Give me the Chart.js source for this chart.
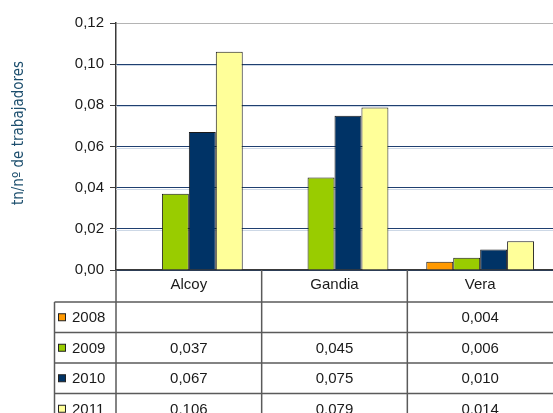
<!DOCTYPE html>
<html>
<head>
<meta charset="utf-8">
<script src="https://cdn.jsdelivr.net/npm/chart.js@4.4.1/dist/chart.umd.min.js"></script>
<style>
  html, body { margin: 0; padding: 0; background: #fff; }
  #wrap { width: 553px; height: 413px; position: relative; }
</style>
</head>
<body>
<div id="wrap"><canvas id="chart"></canvas></div>
<script>
const categories = ['Alcoy', 'Gandia', 'Vera'];
const years = ['2008', '2009', '2010', '2011'];
const values2008 = [null, null, 0.004];
const values2009 = [0.037, 0.045, 0.006];
const values2010 = [0.067, 0.075, 0.010];
const values2011 = [0.106, 0.079, 0.014];
const yearColors = ['#FF9900', '#99CC00', '#003366', '#FFFF99'];
const yTitle = 'tn/nº de trabajadores';

const seriesValues = [values2008, values2009, values2010, values2011];

function formatComma(value, digits) {
  return value.toFixed(digits).replace('.', ',');
}

const tableFont = '15px "Liberation Sans", Arial, sans-serif';
const lineColor = '#5a5a5a';

// draws the data table under the axis, plus the rotated y title
const dataTablePlugin = {
  id: 'dataTable',
  beforeDatasetsDraw(chart) {
    const { ctx, chartArea, scales } = chart;
    const y = scales.y;
    ctx.save();
    ctx.strokeStyle = '#cdd8e6';
    ctx.lineWidth = 1;
    y.ticks.forEach((tick) => {
      if (tick.value === 0 || tick.value >= 0.12) return;
      const py = Math.round(y.getPixelForValue(tick.value)) + 1.5;
      ctx.beginPath();
      ctx.moveTo(chartArea.left, py);
      ctx.lineTo(chartArea.right, py);
      ctx.stroke();
    });
    ctx.restore();
  },
  afterDraw(chart) {
    const { ctx, chartArea, scales } = chart;
    const x = scales.x;
    const half = (x.getPixelForValue(1) - x.getPixelForValue(0)) / 2;
    const top = chartArea.bottom;
    const headerBottom = top + 32;
    const rowH = 30.5;
    const legendLeft = 54.5;
    const left = chartArea.left;
    const right = chartArea.right;

    ctx.save();
    ctx.strokeStyle = lineColor;
    ctx.lineWidth = 1.5;

    // horizontal lines
    for (let r = 0; r <= years.length; r++) {
      const py = headerBottom + r * rowH;
      ctx.beginPath();
      ctx.moveTo(legendLeft, py);
      ctx.lineTo(right, py);
      ctx.stroke();
    }
    // left edge of legend column
    ctx.beginPath();
    ctx.moveTo(legendLeft, headerBottom);
    ctx.lineTo(legendLeft, 413);
    ctx.stroke();
    // axis line continues down
    ctx.beginPath();
    ctx.moveTo(left, top);
    ctx.lineTo(left, 413);
    ctx.stroke();
    // category separators
    categories.forEach((c, i) => {
      if (i === 0) return;
      const px = x.getPixelForValue(i) - half;
      ctx.beginPath();
      ctx.moveTo(px, top);
      ctx.lineTo(px, 413);
      ctx.stroke();
    });

    ctx.font = tableFont;
    ctx.fillStyle = '#1a1a1a';
    ctx.textAlign = 'center';
    ctx.textBaseline = 'middle';
    categories.forEach((c, i) => {
      ctx.fillText(c, x.getPixelForValue(i), top + 15);
    });

    years.forEach((yr, r) => {
      const cy = headerBottom + r * rowH + rowH / 2 + 1;
      // legend swatch
      ctx.fillStyle = yearColors[r];
      ctx.fillRect(58.5, cy - 4.5, 7, 7);
      ctx.strokeStyle = '#222';
      ctx.lineWidth = 1;
      ctx.strokeRect(58.5, cy - 4.5, 7, 7);
      ctx.fillStyle = '#1a1a1a';
      ctx.textAlign = 'left';
      ctx.fillText(yr, 72, cy);
      ctx.textAlign = 'center';
      seriesValues[r].forEach((v, i) => {
        if (v === null) return;
        ctx.fillText(formatComma(v, 3), x.getPixelForValue(i), cy);
      });
    });

    // y axis title
    ctx.translate(19, 133);
    ctx.rotate(-Math.PI / 2);
    ctx.font = '500 15px "DejaVu Sans Condensed", "DejaVu Sans", sans-serif';
    ctx.fillStyle = '#1d4f6e';
    ctx.textAlign = 'center';
    ctx.textBaseline = 'middle';
    ctx.fillText(yTitle, 0, 0);
    ctx.restore();
  },
};

new Chart(document.getElementById('chart'), {
  type: 'bar',
  data: {
    labels: categories,
    datasets: years.map((yr, i) => ({
      label: yr,
      data: seriesValues[i],
      backgroundColor: yearColors[i],
      borderColor: '#1a1a1a',
      borderWidth: 1,
      categoryPercentage: 0.74,
      barPercentage: 1,
    })),
  },
  options: {
    responsive: true,
    maintainAspectRatio: false,
    animation: false,
    layout: { padding: { top: 23, right: 0, left: 0, bottom: 0 } },
    plugins: {
      legend: { display: false },
      tooltip: { enabled: false },
    },
    scales: {
      x: {
        ticks: { display: false },
        grid: { display: false },
        border: { display: true, color: '#3a3a3a', width: 1.5 },
        afterFit: (scale) => { scale.height = 143; },
      },
      y: {
        min: 0,
        max: 0.12,
        ticks: {
          stepSize: 0.02,
          padding: 6,
          color: '#1a1a1a',
          font: { family: '"Liberation Sans", Arial, sans-serif', size: 15 },
          callback: (value) => formatComma(value, 2),
        },
        grid: {
          color: (ctx) => (ctx.tick && ctx.tick.value >= 0.12 ? '#b4b4b4' : '#1f3f70'),
          tickColor: '#3a3a3a',
          tickLength: 6,
          lineWidth: 1,
        },
        border: { display: true, color: '#3a3a3a', width: 1.5 },
        afterFit: (scale) => { scale.width = 116; },
      },
    },
  },
  plugins: [dataTablePlugin],
});
</script>
</body>
</html>
